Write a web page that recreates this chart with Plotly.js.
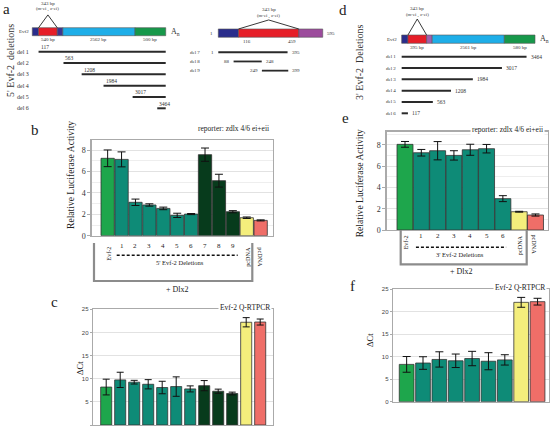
<!DOCTYPE html>
<html><head><meta charset="utf-8">
<script src="https://cdn.plot.ly/plotly-3.0.1.min.js"></script>
<style>html,body{margin:0;padding:0;background:#fff}#chart{width:551px;height:428px}</style>
</head><body><div id="chart"></div>
<script>
// ================= DATA =================
// 5' deletion series (panels b, c)
const cats5   = ['Evf-2','1','2','3','4','5','6','7','8','9','pcDNA','pcDNA'];
const group5  = ['full','del','del','del','del','del','del','core','core','core','vec','vec2'];
const luc5    = [7.23,7.13,3.12,2.87,2.55,1.90,2.02,7.57,5.14,2.24,1.68,1.43];
const luc5Err = [0.78,0.70,0.30,0.11,0.12,0.20,0.05,0.62,0.60,0.10,0.07,0.05];
const ct5     = [8.2,9.75,9.25,8.8,8.1,8.3,7.8,8.5,7.3,6.8,22.2,22.25];
const ct5Err  = [1.7,1.65,0.4,1.0,1.35,2.1,0.65,1.1,0.45,0.3,1.0,0.65];
// 3' deletion series (panels e, f)
const cats3   = ['Evf-2','1','2','3','4','5','6','pcDNA','pcDNA'];
const group3  = ['full','del','del','del','del','del','del','vec','vec2'];
const luc3    = [8.06,7.27,7.46,7.02,7.55,7.65,2.95,1.72,1.41];
const luc3Err = [0.27,0.31,0.86,0.44,0.52,0.40,0.28,0.04,0.10];
const ct3     = [8.3,8.6,9.4,9.1,9.6,9.0,9.3,22.1,22.25];
const ct3Err  = [1.75,1.4,1.7,1.5,1.6,1.9,1.15,1.1,0.75];
const lucTicks = [0,2,4,6,8];
const ctTicks  = [0,5,10,15,20,25];
// Evf-2 transcript schematic (bp)
const geneBounds   = [0,117,460,540,3102,3602];
const segLabBounds = [0,540,3102,3602];
const segLabelsA   = ['540 bp','2562 bp','500 bp'];
const segLabelsD   = ['395 bp','2561 bp','580 bp'];
const del5Names = ['del 1','del 2','del 3','del 4','del 5','del 6'];
const del5Start = [117,563,1208,1984,3017,3464];
const del3Names = ['del 1','del 2','del 3','del 4','del 5','del 6'];
const del3End   = [3464,3017,1984,1208,563,117];
// ultraconserved core region (595 bp)
const coreBounds = [1,116,459,595];
const coreNames  = ['del 7','del 8','del 9'];
const coreStart  = [1,88,249];
const coreEnd    = [395,248,399];

// ================= STYLE / HELPERS =================
const W = 551, H = 428;
const px = v => v / W;
const py = v => 1 - v / H;
const SERIF = '"Liberation Serif", "Times New Roman", serif';
const SANS = '"Liberation Sans", Arial, sans-serif';
const INK = '#222';
const COLORS = {full:'#1ea64c', del:'#0e8b77', core:'#073b1c', vec:'#f4ee7c', vec2:'#ef6e68'};
const NAVY='#2a2d8c', RED='#e61e28', CYAN='#1eaee8', GREEN='#17984a';
// drawn proportions of the (not-to-scale) transcript schematic
const geneDrawFrac = [0,0.047,0.187,0.229,0.77,1];
function gx(bp){
  for(let i=1;i<geneBounds.length;i++){
    if(bp<=geneBounds[i]){
      const t=(bp-geneBounds[i-1])/(geneBounds[i]-geneBounds[i-1]);
      return geneDrawFrac[i-1]+t*(geneDrawFrac[i]-geneDrawFrac[i-1]);
    }
  }
  return 1;
}
const idMap = v => v;

function note(text,x,y,size,o={}){
  return Object.assign({text,x,y,xref:'paper',yref:'paper',showarrow:false,
    xanchor:'center',yanchor:'middle',font:{family:SERIF,size,color:INK}},o);
}

// ================= TRACES =================
const traces=[];
function barTrace(vals,errs,groups,xa,ya,width,capW){
  return {type:'bar',x:vals.map((_,i)=>i),y:vals,width,xaxis:xa,yaxis:ya,
    marker:{color:groups.map(g=>COLORS[g]),line:{color:'#333',width:0.8}},
    error_y:{type:'data',array:errs,visible:true,color:'#111',thickness:1,width:capW},
    hoverinfo:'skip'};
}
traces.push(barTrace(luc5,luc5Err,group5,'x','y',0.956,4));
traces.push(barTrace(ct5,ct5Err,group5,'x2','y2',0.79,3.5));
traces.push(barTrace(luc3,luc3Err,group3,'x3','y3',0.98,4));
traces.push(barTrace(ct3,ct3Err,group3,'x4','y4',0.9,4));

function geneBar(bounds,cols,mapFn,row,h,xa,ya){
  const s=bounds.slice(0,-1).map(mapFn), e=bounds.slice(1).map(mapFn);
  return {type:'bar',orientation:'h',base:s,x:e.map((v,i)=>v-s[i]),y:s.map(()=>row),width:h,
    xaxis:xa,yaxis:ya,marker:{color:cols,line:{color:'#555',width:0.6}},hoverinfo:'skip'};
}
function segLines(starts,ends,mapFn,xa,ya,w){
  const x=[],y=[];
  starts.forEach((s,i)=>{x.push(mapFn(s),mapFn(ends[i]),null);y.push(i+1,i+1,null);});
  return {type:'scatter',mode:'lines',x,y,xaxis:xa,yaxis:ya,line:{color:'#2a2a2a',width:w},hoverinfo:'skip'};
}
function tri(a,b,mapFn,barTop,apexY,xa,ya){
  const m=(mapFn(a)+mapFn(b))/2;
  return {type:'scatter',mode:'lines',x:[mapFn(a),m,mapFn(b)],y:[barTop,apexY,barTop],
    xaxis:xa,yaxis:ya,line:{color:'#222',width:0.9},hoverinfo:'skip'};
}
// a (left): 5' deletions
const rowA=-0.767, hA=0.707;
traces.push(geneBar(geneBounds,[NAVY,RED,'#3d3590',CYAN,GREEN],gx,rowA,hA,'x5','y5'));
traces.push(segLines(del5Start,del5Start.map(()=>geneBounds[geneBounds.length-1]),gx,'x5','y5',2));
traces.push(tri(geneBounds[1],geneBounds[2],gx,rowA-hA/2,-2.25,'x5','y5'));
// a (right): core deletions
const rowC=-1.08, hC=0.9;
traces.push(geneBar(coreBounds,[NAVY,RED,'#9c4b9c'],idMap,rowC,hC,'x6','y6'));
traces.push(segLines(coreStart,coreEnd,idMap,'x6','y6',1.8));
traces.push(tri(coreBounds[1],coreBounds[2],idMap,rowC-hC/2,-2.51,'x6','y6'));
// d: 3' deletions
const rowD=-0.55, hD=0.733;
traces.push(geneBar(geneBounds,[NAVY,RED,'#a060ae',CYAN,GREEN],gx,rowD,hD,'x7','y7'));
traces.push(segLines(del3End.map(()=>geneBounds[0]),del3End,gx,'x7','y7',2));
traces.push(tri(geneBounds[1],geneBounds[2],gx,rowD-hD/2,-2.33,'x7','y7'));

// ================= AXES =================
function bx(d0,d1,range,anchor){
  return {domain:[px(d0),px(d1)],range,anchor,showline:true,mirror:true,linecolor:'#aaa',linewidth:1.3,
    showticklabels:false,ticks:'',showgrid:false,zeroline:false,fixedrange:true};
}
function by(t,b,range,anchor,tv,font,minorStep,tl){
  const a={domain:[py(b),py(t)],range,anchor,showline:true,mirror:true,linecolor:'#aaa',linewidth:1.3,
    tickvals:tv,ticks:'outside',ticklen:tl,tickcolor:'#aaa',tickfont:font,
    showgrid:true,gridcolor:'#e2e2e2',gridwidth:1,zeroline:false,fixedrange:true};
  if(minorStep) a.minor={dtick:minorStep,showgrid:true,gridcolor:'#eeeeee',ticks:''};
  return a;
}
function hid(d0,d1,range,anchor,isY){
  return {domain:isY?[py(d1),py(d0)]:[px(d0),px(d1)],range,anchor,visible:false,fixedrange:true,showgrid:false,zeroline:false};
}
const tickSerif={family:SERIF,size:8,color:'#333'};
const tickSmall={family:SANS,size:6,color:'#444'};

const layout={
  width:W,height:H,margin:{l:0,r:0,t:0,b:0},paper_bgcolor:'#fff',plot_bgcolor:'rgba(0,0,0,0)',
  showlegend:false,barmode:'overlay',
  xaxis: bx(91.7,273,[-1.147,11.887],'y'),
  yaxis: by(140,235.7,[0,8.94],'x',lucTicks,tickSerif,1,3),
  xaxis2:bx(93,273,[-0.943,11.914],'y2'),
  yaxis2:by(309.3,425,[0,25],'x2',ctTicks,tickSmall,null,2),
  xaxis3:bx(386.7,548,[-1.122,8.768],'y3'),
  yaxis3:by(131.7,230,[0,9.25],'x3',lucTicks,tickSerif,1,3),
  xaxis4:bx(393,549,[-0.834,8.70],'y4'),
  yaxis4:by(289.3,401.7,[0,25],'x4',ctTicks,tickSmall,null,2),
  xaxis5:hid(0,190,[-0.242,1.182],'y5'),
  yaxis5:hid(0,115,[6.592,-3.567],'x5',true),
  xaxis6:hid(185,340,[-188.4,693.3],'y6'),
  yaxis6:hid(0,115,[7.82,-4.68],'x6',true),
  xaxis7:hid(375,551,[-0.2,1.12],'y7'),
  yaxis7:hid(0,120,[6.592,-4.009],'x7',true),
  annotations:[],shapes:[]
};
const A=layout.annotations, S=layout.shapes;

// panel letters
[['a',6,9],['b',35,130],['c',55,302],['d',343,10],['e',345,118],['f',352,286]]
  .forEach(([t,x,y])=>A.push(note(t,px(x),py(y),15)));

// y titles and headers
A.push(note('Relative Luciferase Activity',px(70),py(175),9.6,{textangle:-90}));
A.push(note('Relative Luciferase Activity',px(359.3),py(183),9.6,{textangle:-90}));
A.push(note('ΔCt',px(80),py(368),8.5,{textangle:-90}));
A.push(note('ΔCt',px(370),py(340),8.5,{textangle:-90}));
A.push(note('reporter: zdlx 4/6 ei+eii',px(233),py(128),7.5));
A.push(note('reporter: zdlx 4/6 ei+eii',px(507.5),py(129.5),7.5,{bgcolor:'#fff',borderpad:1}));
A.push(note('Evf-2 Q-RTPCR',px(245),py(307),7.5,{bgcolor:'#fff',borderpad:1}));
A.push(note('Evf-2 Q-RTPCR',px(520),py(287),7.5,{bgcolor:'#fff',borderpad:1}));
A.push(note("5' Evf-2  deletions",px(10),py(61),10,{textangle:-90,font:{family:SERIF,size:10,color:'#333'}}));
A.push(note("3' Evf-2  Deletions",px(360),py(62),10,{textangle:-90,font:{family:SERIF,size:10,color:'#333'}}));

// category labels under luciferase panels
function catLabels(cats,xa,numY,evfY,pcY){
  cats.forEach((c,i)=>{
    if(c.length<=2) A.push(note(c,i,py(numY),7,{xref:xa}));
    else {
      const last=i===cats.length-1;
      A.push(note(c,i,py(c==='Evf-2'?evfY:pcY),6.2,{xref:xa,textangle:last?90:-90}));
    }
  });
}
catLabels(cats5,'x',245.7,254,257);
catLabels(cats3,'x3',235.7,242.5,245);
// dashed deletion bars + labels
S.push({type:'line',xref:'x',yref:'paper',x0:0.65,x1:9.35,y0:py(255.3),y1:py(255.3),line:{color:'#111',width:1.6,dash:'3px,2px'}});
A.push(note("5' Evf-2 Deletions",5.2,py(262.7),6.5,{xref:'x'}));
S.push({type:'line',xref:'x3',yref:'paper',x0:0.67,x1:6.2,y0:py(247.3),y1:py(247.3),line:{color:'#111',width:1.6,dash:'3px,2px'}});
A.push(note("3' Evf-2 Deletions",3.4,py(254),6.5,{xref:'x3'}));
// "+ Dlx2" brackets
function bracket(x0,x1,y0,y1){
  S.push({type:'path',xref:'paper',yref:'paper',
    path:`M ${px(x0)},${py(y0)} L ${px(x0)},${py(y1)} L ${px(x1)},${py(y1)} L ${px(x1)},${py(y0)}`,
    line:{color:'#8c8c8c',width:2.2}});
}
bracket(94,252.3,243,281);
bracket(400.7,526.7,230,264.3);
A.push(note('+ Dlx2',px(177),py(289.5),8));
A.push(note('+ Dlx2',px(461.7),py(271),8));

// ---- schematic labels ----
const small=(t,x,y,size,xa,ya,o={})=>A.push(note(t,x,y,size,Object.assign({xref:xa,yref:ya,font:{family:SERIF,size,color:'#333'}},o)));
// a-left
small('Evf2',-0.012,rowA,5,'x5','y5',{xanchor:'right'});
small('A<sub>n</sub>',1.025,rowA,8,'x5','y5',{xanchor:'left'});
segLabelsA.forEach((t,i)=>small(t,(gx(segLabBounds[i])+gx(segLabBounds[i+1]))/2,-0.035,5,'x5','y5'));
small('343 bp',(gx(geneBounds[1])+gx(geneBounds[2]))/2,-3.27,5,'x5','y5');
small('(m-ei , z-ei)',(gx(geneBounds[1])+gx(geneBounds[2]))/2,-2.73,4.8,'x5','y5');
del5Names.forEach((n,i)=>{
  small(n,-0.012,i+1,6,'x5','y5',{xanchor:'right'});
  small(String(del5Start[i]),gx(del5Start[i]),i+1-0.42,5.5,'x5','y5',{xanchor:'left'});
});
// a-right
small('1',coreBounds[0],rowC,5,'x6','y6',{xanchor:'right',xshift:-3});
small(String(coreBounds[3]),coreBounds[3],rowC,5,'x6','y6',{xanchor:'left',xshift:2});
small(String(coreBounds[1]),coreBounds[1],-0.12,5,'x6','y6',{xanchor:'left',xshift:2});
small(String(coreBounds[2]),coreBounds[2],-0.12,5,'x6','y6',{xanchor:'right',xshift:-1});
small('343 bp',(coreBounds[1]+coreBounds[2])/2,-3.6,5,'x6','y6');
small('(m-ei , z-ei)',(coreBounds[1]+coreBounds[2])/2,-2.95,4.8,'x6','y6');
coreNames.forEach((n,i)=>{
  small(n,-91.7,i+1,5,'x6','y6',{xanchor:'right'});
  small(String(coreStart[i]),coreStart[i],i+1,5,'x6','y6',{xanchor:'right',xshift:-2});
  small(String(coreEnd[i]),coreEnd[i],i+1,5,'x6','y6',{xanchor:'left',xshift:2});
});
// d
small('Evf2',-0.02,rowD,5,'x7','y7',{xanchor:'right'});
small('A<sub>n</sub>',1.022,rowD,8,'x7','y7',{xanchor:'left'});
segLabelsD.forEach((t,i)=>small(t,(gx(segLabBounds[i])+gx(segLabBounds[i+1]))/2,0.187,5,'x7','y7'));
small('343 bp',(gx(geneBounds[1])+gx(geneBounds[2]))/2,-3.30,5,'x7','y7');
small('(m-ei , z-ei)',(gx(geneBounds[1])+gx(geneBounds[2]))/2,-2.66,4.8,'x7','y7');
del3Names.forEach((n,i)=>{
  small(n,-0.025,i+1,5,'x7','y7',{xanchor:'right'});
  small(String(del3End[i]),gx(del3End[i]),i+1,5.5,'x7','y7',{xanchor:'left',xshift:2});
});

Plotly.newPlot('chart',traces,layout,{staticPlot:true,displayModeBar:false});
</script>
</body></html>
